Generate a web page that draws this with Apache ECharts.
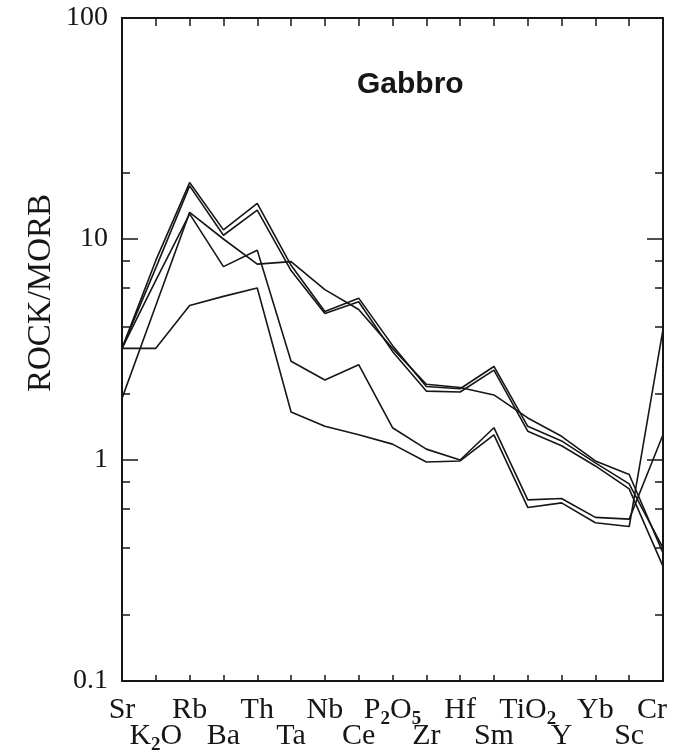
<!DOCTYPE html>
<html>
<head>
<meta charset="utf-8">
<script src="https://cdn.jsdelivr.net/npm/echarts@6/dist/echarts.min.js"></script>
<style>
  html, body { margin: 0; padding: 0; background: #fff; }
  #chart { width: 674px; height: 755px; }
</style>
</head>
<body>
<div id="chart"></div>
<script>
// ---- data ----
const categories = ['Sr','K2O','Rb','Ba','Th','Ta','Nb','Ce','P2O5','Zr','Hf','Sm','TiO2','Y','Yb','Sc','Cr'];
// tick labels ("_n" marks a subscript digit)
const categoryLabels = ['Sr','K_2O','Rb','Ba','Th','Ta','Nb','Ce','P_2O_5','Zr','Hf','Sm','TiO_2','Y','Yb','Sc','Cr'];
const yTickLabels = ['0.1','1','10','100'];
const yMinorTicks = [0.2,0.4,0.6,0.8,2,4,6,8,20];

const sampleA = [3.2, 8.0, 18.0, 11.0, 14.5, 7.6, 4.7, 5.4, 3.3, 2.15, 2.1, 2.65, 1.42, 1.22, 0.97, 0.78, 0.40];
const sampleB = [3.2, 7.4, 17.4, 10.4, 13.5, 7.2, 4.6, 5.2, 3.1, 2.05, 2.03, 2.55, 1.35, 1.16, 0.94, 0.74, 0.33];
const sampleC = [1.9, 5.0, 13.2, 10.0, 7.7, 7.9, 5.9, 4.8, 3.2, 2.2, 2.13, 1.97, 1.55, 1.28, 0.99, 0.86, 0.38];
const sampleD = [3.2, 6.5, 13.0, 7.5, 8.9, 2.8, 2.3, 2.7, 1.4, 1.12, 1.0, 1.40, 0.66, 0.67, 0.55, 0.54, 1.3];
const sampleE = [3.2, 3.2, 5.0, 5.5, 6.0, 1.65, 1.42, 1.3, 1.18, 0.98, 0.99, 1.3, 0.61, 0.64, 0.52, 0.50, 3.9];
const samples = [sampleA, sampleB, sampleC, sampleD, sampleE];

// ---- chart ----
const INK = '#161616';
const SERIF = '"Liberation Serif", "DejaVu Serif", serif';

function richLabel(str, row, last) {
  const parts = str.split(/(_\d)/).filter(Boolean);
  const suf = last ? 'r' : '';
  return parts.map(p => p[0] === '_' ? '{s' + row + '|' + p.slice(1) + '}' : '{n' + row + suf + '|' + p + '}').join('');
}
const baseN = { fontFamily: SERIF, fontSize: 30, lineHeight: 30, color: INK, verticalAlign: 'top' };
const baseS = { fontFamily: SERIF, fontSize: 19, fontWeight: 'bold', lineHeight: 19, color: INK, verticalAlign: 'top' };
const catRich = {
  n0: Object.assign({}, baseN, { padding: [0,0,0,0] }),
  n0r: Object.assign({}, baseN, { padding: [0,22,0,0] }),
  s0: Object.assign({}, baseS, { padding: [15,0,0,0] }),
  n1: Object.assign({}, baseN, { padding: [26,0,0,0] }),
  s1: Object.assign({}, baseS, { padding: [41,0,0,0] })
};

const axisLineStyle = { show: true, onZero: false, lineStyle: { color: INK, width: 2 } };
const minorLog = yMinorTicks.map(v => Math.log10(v));

const chart = echarts.init(document.getElementById('chart'), null, { renderer: 'canvas' });
chart.setOption({
  animation: false,
  backgroundColor: '#ffffff',
  title: {
    text: 'Gabbro',
    left: 357, top: 70, padding: 0,
    textStyle: { fontFamily: '"Liberation Sans", Arial, sans-serif', fontWeight: 'bold', fontSize: 30, color: INK }
  },
  graphic: [{
    type: 'text',
    x: 41, y: 293,
    rotation: Math.PI / 2,
    style: { text: 'ROCK/MORB', font: '33px "Liberation Serif", serif', fill: INK, align: 'center', verticalAlign: 'middle' }
  }],
  grid: { left: 122, right: 11, top: 18, bottom: 74, containLabel: false, outerBoundsMode: 'none' },
  xAxis: [{
    type: 'category', data: categories, boundaryGap: false, position: 'bottom',
    axisLine: axisLineStyle,
    axisTick: { show: true, inside: true, length: 6, interval: 0, lineStyle: { color: INK, width: 1.5 } },
    axisLabel: {
      interval: 0, margin: 14, color: INK, hideOverlap: false,
      formatter: (v, i) => richLabel(categoryLabels[i], i % 2, i === categoryLabels.length - 1),
      rich: catRich
    },
    splitLine: { show: false }
  }, {
    type: 'category', data: categories, boundaryGap: false, position: 'top',
    axisLine: axisLineStyle,
    axisTick: { show: true, inside: true, length: 8, interval: 0, lineStyle: { color: INK, width: 1.5 } },
    axisLabel: { show: false },
    splitLine: { show: false }
  }],
  yAxis: [{
    type: 'log', logBase: 10, min: 0.1, max: 100, position: 'left',
    axisLine: axisLineStyle,
    axisTick: { show: true, inside: true, length: 16, lineStyle: { color: INK, width: 1.5 } },
    axisLabel: {
      margin: 14, color: INK, fontFamily: SERIF, fontSize: 28,
      formatter: v => { const k = Math.round(Math.log10(v)) + 1; return yTickLabels[k]; }
    },
    splitLine: { show: false }
  }, {
    type: 'value', min: -1, max: 2, position: 'left',
    axisLine: { show: false, onZero: false },
    axisTick: { show: true, inside: true, length: 8, customValues: minorLog, lineStyle: { color: INK, width: 1.5 } },
    axisLabel: { show: false },
    splitLine: { show: false }
  }, {
    type: 'log', logBase: 10, min: 0.1, max: 100, position: 'right',
    axisLine: axisLineStyle,
    axisTick: { show: true, inside: true, length: 16, lineStyle: { color: INK, width: 1.5 } },
    axisLabel: { show: false },
    splitLine: { show: false }
  }, {
    type: 'value', min: -1, max: 2, position: 'right',
    axisLine: { show: false, onZero: false },
    axisTick: { show: true, inside: true, length: 8, customValues: minorLog, lineStyle: { color: INK, width: 1.5 } },
    axisLabel: { show: false },
    splitLine: { show: false }
  }],
  series: samples.map((d, i) => ({
    type: 'line', name: 'S' + (i + 1), data: d,
    xAxisIndex: 0, yAxisIndex: 0,
    symbol: 'none', smooth: false,
    lineStyle: { color: INK, width: 1.6 },
    z: 3
  }))
});
</script>
</body>
</html>
